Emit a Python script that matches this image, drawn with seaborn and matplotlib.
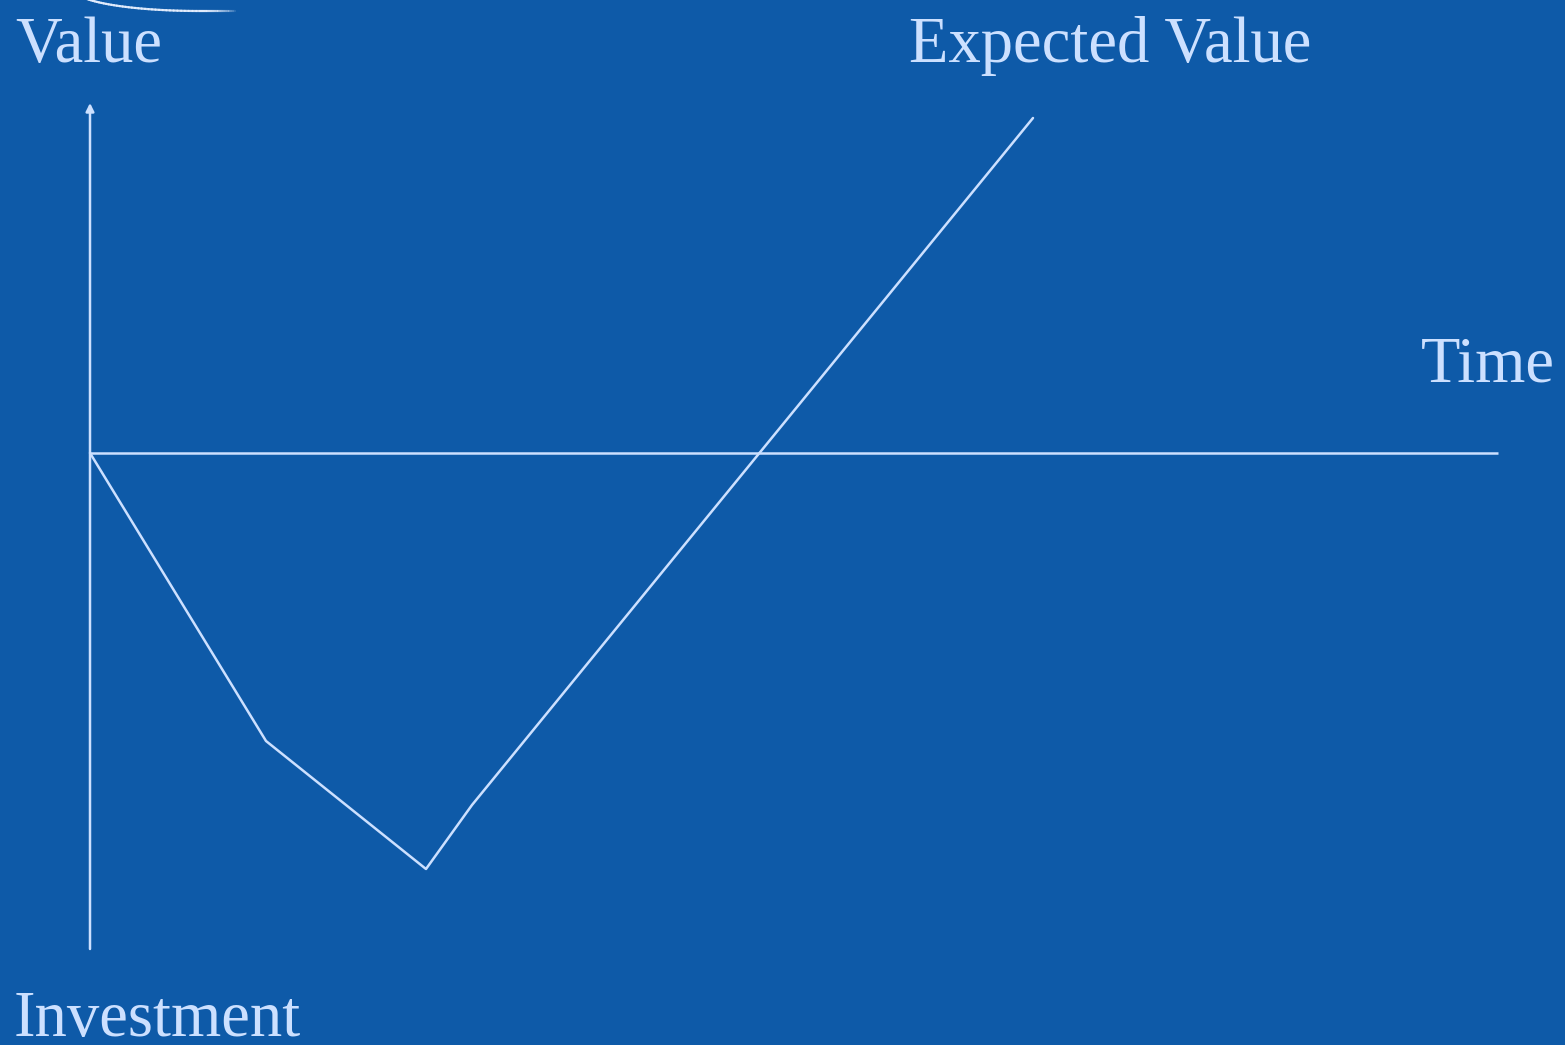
import numpy as np
import pandas as pd
import matplotlib
matplotlib.use("Agg")
import matplotlib.pyplot as plt
import seaborn as sns

# Curve data (time vs value), origin at the crossing of the two axes
time = [0.0, 17.6, 33.6, 38.2, 94.3]
value = [0.0, -28.8, -41.6, -35.2, 33.5]

# Axis extents
time_axis_end = 140.8
value_axis_low = -49.6
value_axis_high = 35.0

bg = "#0e5aa8"
fg = "#cce0ff"

sns.set_theme(style="white")
plt.rcParams["font.family"] = ["Liberation Serif", "DejaVu Serif"]

W, H = 1565, 1045
fig = plt.figure(figsize=(W / 100, H / 100), dpi=100)
fig.patch.set_facecolor(bg)
ax = fig.add_axes([0, 0, 1, 1])
ax.set_facecolor(bg)
ax.set_xlim(-9.0, 147.5)
ax.set_ylim(-59.2, 45.3)
ax.axis("off")

# Axes of the sketch
ax.plot([0, time_axis_end], [0, 0], color=fg, lw=1.8, solid_capstyle="butt")
ax.annotate("", xy=(0, value_axis_high), xytext=(0, value_axis_low),
            arrowprops=dict(arrowstyle="-|>", color=fg, lw=1.8,
                            mutation_scale=12, shrinkA=0, shrinkB=0))

# Expected value curve
df = pd.DataFrame({"Time": time, "Value": value})
sns.lineplot(data=df, x="Time", y="Value", sort=False, color=fg, lw=1.8, ax=ax)
ax.set_xlabel("")
ax.set_ylabel("")

# Decorative arc at the top left (template ornament), fading to the right
t = np.linspace(np.pi * 0.93, np.pi * 1.5, 60)
px = 200 + 125 * np.cos(t)
py = -10 - 21 * np.sin(t)
tail_x = np.linspace(px[-1], 235, 20)
tail_y = np.full_like(tail_x, py[-1])
px = np.concatenate([px, tail_x[1:]])
py = np.concatenate([py, tail_y[1:]])
n = len(px)
for i in range(n - 1):
    a = 1.0 if i < 60 else max(0.0, 1 - (i - 60) / 20)
    fig.lines.append(plt.Line2D([px[i] / W, px[i + 1] / W],
                                [1 - py[i] / H, 1 - py[i + 1] / H],
                                transform=fig.transFigure, color="#e8f0ff",
                                lw=1.6, alpha=a * 0.9))

fs = 46.5
fig.text(15 / W, 1 - 62 / H, "Value", color=fg, fontsize=fs, va="baseline", ha="left")
fig.text(909 / W, 1 - 62 / H, "Expected Value", color=fg, fontsize=fs, va="baseline", ha="left")
fig.text(1421 / W, 1 - 381 / H, "Time", color=fg, fontsize=fs, va="baseline", ha="left")
fig.text(14 / W, 1 - 1036 / H, "Investment", color=fg, fontsize=fs, va="baseline", ha="left")

fig.savefig("out.png", dpi=100, facecolor=bg)
